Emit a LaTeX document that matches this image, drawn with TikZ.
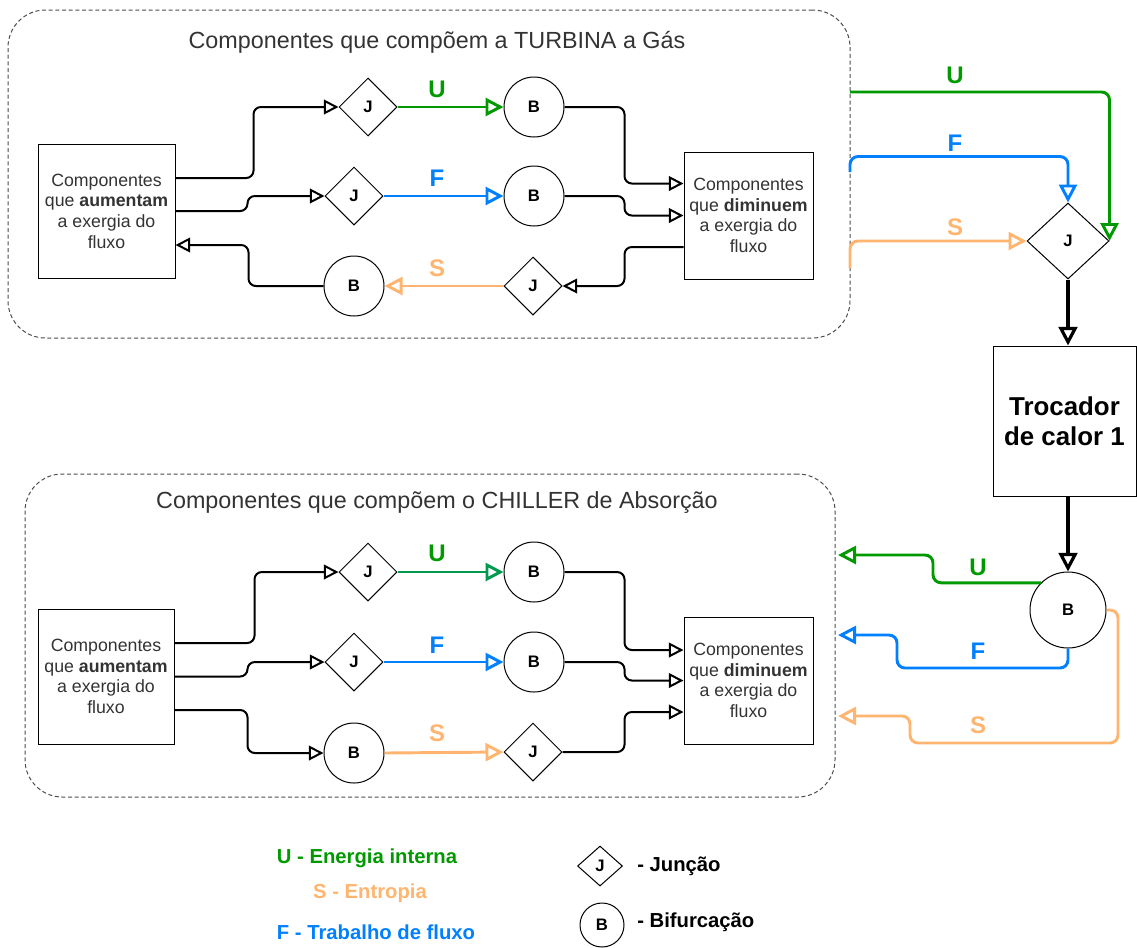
\documentclass[tikz,border=0pt]{standalone}
\usepackage{fontspec}
\setmainfont{Liberation Sans}
\usetikzlibrary{shapes.geometric,arrows.meta}
\newdimen\pxu \pxu=0.75pt
\definecolor{cU}{RGB}{0,153,0}
\definecolor{cUb}{RGB}{0,153,77}
\definecolor{cF}{RGB}{0,127,255}
\definecolor{cS}{RGB}{255,181,112}
\definecolor{txt}{RGB}{51,51,51}
\tikzset{
  frame/.style={draw=black!70, dash pattern=on 3pt off 2pt, rounded corners=28pt, line width=0.75pt, inner sep=0},
  ttl/.style={text=txt, font=\fontsize{17.5}{20}\selectfont, inner sep=0},
  comp/.style={draw, line width=0.75pt, align=center, text=txt, font=\fontsize{13.3}{15.5}\selectfont, inner sep=0},
  jn/.style={diamond, draw, line width=0.75pt, minimum width=58\pxu, minimum height=58\pxu, inner sep=0, font=\bfseries\fontsize{12.5}{14}\selectfont},
  bf/.style={circle, draw, line width=0.75pt, minimum size=60\pxu, inner sep=0, font=\bfseries\fontsize{12.5}{14}\selectfont},
  conn/.style={line width=1.5pt, rounded corners=5.5pt, -{Triangle[open,length=11pt,width=11pt]}},
  colU/.style={draw=cU, line width=2.2pt, rounded corners=6pt, -{Triangle[open,length=13.5pt,width=13.5pt]}},
  colF/.style={draw=cF, line width=2.2pt, rounded corners=6pt, -{Triangle[open,length=13.5pt,width=13.5pt]}},
  colS/.style={draw=cS, line width=2.2pt, rounded corners=6pt, -{Triangle[open,length=13.5pt,width=13.5pt]}},
  thk/.style={line width=2.4pt, -{Triangle[open,length=14pt,width=14pt]}},
  lbl/.style={font=\bfseries\fontsize{18}{20}\selectfont, inner sep=0},
  leg/.style={font=\bfseries\fontsize{15.2}{17}\selectfont, inner sep=0}
}
\begin{document}
\begin{tikzpicture}[x=0.75pt,y=-0.75pt]
\useasboundingbox (0,0) rectangle (1137,947);

% ===== TURBINA group =====
\node[frame, minimum width=842\pxu, minimum height=328\pxu] (turb) at (429,174) {};
\node[ttl] (t1) at (437,42) {Componentes que compõem a TURBINA a Gás};
\node[comp, minimum width=137\pxu, minimum height=134\pxu] (L1) at (106.5,211) {Componentes\\que \textbf{aumentam}\\a exergia do\\fluxo};
\node[comp, minimum width=129\pxu, minimum height=127\pxu] (R1) at (748.5,215.5) {Componentes\\que \textbf{diminuem}\\a exergia do\\fluxo};
\node[jn] (J1) at (368,107) {J};
\node[jn] (J2) at (354,196) {J};
\node[bf] (B1) at (534,107) {B};
\node[bf] (B2) at (534,196) {B};
\node[jn] (J3) at (533,286) {J};
\node[bf] (B3) at (354,286) {B};

\draw[conn] ([yshift=33\pxu]L1.east) -| ([xshift=-85\pxu]J1.west) -- (J1.west);
\draw[conn] (L1.east) -| ([xshift=-77\pxu]J2.west) -- (J2.west);
\draw[conn] (B3.west) -| ([xshift=73\pxu,yshift=-34\pxu]L1.east) -- ([yshift=-34\pxu]L1.east);
\draw[conn] (B1.east) -| ([xshift=-59\pxu,yshift=32\pxu]R1.west) -- ([yshift=32\pxu]R1.west);
\draw[conn] (B2.east) -| ([xshift=-59\pxu]R1.west) -- (R1.west);
\draw[conn] ([yshift=-31.5\pxu]R1.west) -| ([xshift=62\pxu]J3.east) -- (J3.east);

\draw[colU] (J1.east) -- (B1.west);
\draw[colF] (J2.east) -- (B2.west);
\draw[colS] (J3.west) -- (B3.east);
\node[lbl, text=cU] (lu1) at (437,89) {U};
\node[lbl, text=cF] (lf1) at (437,178) {F};
\node[lbl, text=cS] (ls1) at (437,268) {S};

% ===== junction to heat exchanger =====
\node[jn, minimum width=82\pxu, minimum height=76\pxu] (J4) at (1068,241) {J};
\node[draw, line width=0.75pt, minimum width=143\pxu, minimum height=150\pxu, align=center, inner sep=0,
      font=\bfseries\fontsize{19.4}{22.5}\selectfont] (T) at (1064.5,421) {Trocador\\de calor 1};
\node[bf, minimum size=76\pxu] (B4) at (1068,610) {B};

\coordinate (uo) at (850,92);
\coordinate (fo) at (850,172);
\coordinate (so) at (850,268);
\draw[colU] (uo) -| (J4.east);
\draw[colF] (fo) |- ([yshift=46\pxu]J4.north) -- (J4.north);
\draw[colS] (so) |- (J4.west);
\node[lbl, text=cU] (lu2) at (955,75) {U};
\node[lbl, text=cF] (lf2) at (955,143) {F};
\node[lbl, text=cS] (ls2) at (955,227) {S};

\draw[thk] (J4.south) -- (J4.south |- T.north);
\draw[thk] (B4.north |- T.south) -- (B4.north);

\coordinate (ui) at (838,555);
\coordinate (fi) at (838,635);
\coordinate (si) at (838,716);
\draw[colU] (B4.135) -| ([xshift=95\pxu]ui) -- (ui);
\draw[colF] (B4.south) |- ([xshift=59\pxu,yshift=-33\pxu]fi) |- (fi);
\draw[colS] (B4.east) -| (1118,743) -| ([xshift=72\pxu]si) -- (si);
\node[lbl, text=cU] (lu3) at (978,567) {U};
\node[lbl, text=cF] (lf3) at (978,651) {F};
\node[lbl, text=cS] (ls3) at (978,725) {S};

% ===== CHILLER group =====
\node[frame, minimum width=810\pxu, minimum height=323\pxu] (chil) at (430,635.5) {};
\node[ttl] (t2) at (437,503) {Componentes que compõem o CHILLER de Absorção};
\node[comp, minimum width=136\pxu, minimum height=135\pxu] (L2) at (106,676.5) {Componentes\\que \textbf{aumentam}\\a exergia do\\fluxo};
\node[comp, minimum width=129\pxu, minimum height=127\pxu] (R2) at (748.5,680.5) {Componentes\\que \textbf{diminuem}\\a exergia do\\fluxo};
\node[jn] (J5) at (368,572) {J};
\node[bf] (B6) at (534,572) {B};
\node[jn] (J6) at (354,662) {J};
\node[bf] (B7) at (534,662) {B};
\node[bf] (B5) at (354,753) {B};
\node[jn] (J7) at (533,752) {J};

\draw[conn] ([yshift=33.5\pxu]L2.east) -| ([xshift=-84\pxu]J5.west) -- (J5.west);
\draw[conn] (L2.east) -| ([xshift=-77\pxu]J6.west) -- (J6.west);
\draw[conn] ([yshift=-33.5\pxu]L2.east) -| ([xshift=-76\pxu]B5.west) -- (B5.west);
\draw[conn] (B6.east) -| ([xshift=-59\pxu,yshift=30.5\pxu]R2.west) -- ([yshift=30.5\pxu]R2.west);
\draw[conn] (B7.east) -| ([xshift=-59\pxu]R2.west) -- (R2.west);
\draw[conn] (J7.east) -| ([xshift=-59\pxu,yshift=-31.5\pxu]R2.west) -- ([yshift=-31.5\pxu]R2.west);

\draw[colU, draw=cUb] (J5.east) -- (B6.west);
\draw[colF] (J6.east) -- (B7.west);
\draw[colS] (B5.east) -- (J7.west);
\node[lbl, text=cU] (lu4) at (437,553) {U};
\node[lbl, text=cF] (lf4) at (437,645) {F};
\node[lbl, text=cS] (ls4) at (437,733) {S};

% ===== legend =====
\node[leg, text=cU] (lgU) at (367,858) {U - Energia interna};
\node[leg, text=cS] (lgS) at (370,893) {S - Entropia};
\node[leg, text=cF] (lgF) at (376,932) {F - Trabalho de fluxo};
\node[jn, minimum width=45\pxu, minimum height=40\pxu] (lgJ) at (600,866) {J};
\node[leg, anchor=west] (lgJt) at (637,866) {- Junção};
\node[bf, minimum size=44\pxu] (lgB) at (602,925) {B};
\node[leg, anchor=west] (lgBt) at (637,922) {- Bifurcação};
\end{tikzpicture}
\end{document}
